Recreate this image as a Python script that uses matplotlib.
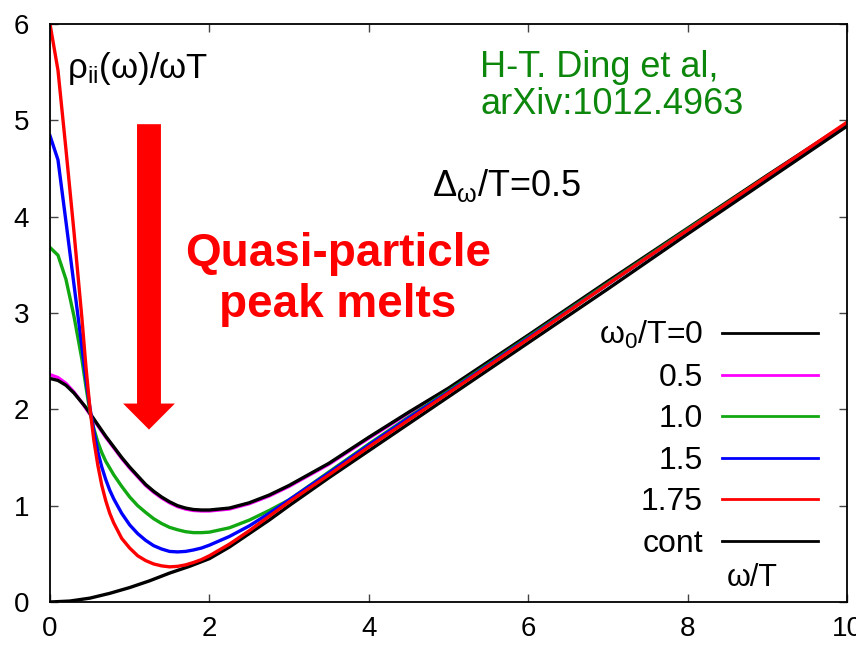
import matplotlib
matplotlib.use("Agg")
import matplotlib.pyplot as plt
from matplotlib.lines import Line2D
from matplotlib.patches import FancyArrow

plt.rcParams['font.family'] = ['Liberation Sans', 'DejaVu Sans']
plt.rcParams['mathtext.fontset'] = 'custom'
plt.rcParams['mathtext.rm'] = 'Liberation Sans'
plt.rcParams['mathtext.default'] = 'regular'

# omega/T grid shared by the omega_0 curves
omega = [0, 0.1, 0.2, 0.3, 0.4, 0.45, 0.5, 0.55, 0.6, 0.65, 0.7, 0.75, 0.8, 0.9, 1.0,
         1.1, 1.2, 1.3, 1.4, 1.5, 1.6, 1.7, 1.8, 1.9, 2.0, 2.25, 2.5, 2.75, 3.0, 3.5,
         4.0, 4.5, 5.0, 6.0, 7.0, 8.0, 9.0, 10.0]

rho_w0_00 = [2.32, 2.30, 2.25, 2.17, 2.07, 2.02, 1.96, 1.90, 1.84, 1.78, 1.72, 1.665, 1.61, 1.50, 1.40,
             1.31, 1.22, 1.15, 1.09, 1.04, 1.00, 0.975, 0.96, 0.955, 0.955, 0.975, 1.03, 1.11, 1.21, 1.44,
             1.71, 1.97, 2.22, 2.77, 3.33, 3.88, 4.43, 4.97]
rho_w0_05 = [2.36, 2.33, 2.27, 2.18, 2.07, 2.01, 1.95, 1.89, 1.83, 1.77, 1.71, 1.655, 1.60, 1.49, 1.39,
             1.30, 1.21, 1.14, 1.08, 1.03, 0.99, 0.965, 0.95, 0.945, 0.945, 0.965, 1.02, 1.10, 1.20, 1.43,
             1.70, 1.96, 2.21, 2.76, 3.32, 3.87, 4.42, 4.96]
rho_w0_10 = [3.68, 3.60, 3.35, 2.97, 2.52, 2.24, 1.98, 1.80, 1.66, 1.55, 1.46, 1.39, 1.32, 1.20, 1.09,
             1.00, 0.93, 0.865, 0.815, 0.775, 0.75, 0.73, 0.72, 0.72, 0.725, 0.77, 0.85, 0.95, 1.06, 1.35,
             1.64, 1.92, 2.19, 2.75, 3.31, 3.87, 4.42, 4.96]
rho_w0_15 = [4.84, 4.59, 3.95, 3.30, 2.65, 2.32, 2.02, 1.77, 1.56, 1.40, 1.27, 1.16, 1.07, 0.92, 0.80,
             0.71, 0.64, 0.585, 0.55, 0.525, 0.52, 0.525, 0.54, 0.56, 0.59, 0.68, 0.79, 0.92, 1.06, 1.34,
             1.63, 1.91, 2.18, 2.74, 3.30, 3.86, 4.41, 4.96]
rho_w0_175 = [6.00, 5.52, 4.70, 3.85, 2.95, 2.45, 2.02, 1.68, 1.42, 1.21, 1.05, 0.92, 0.82, 0.66, 0.56,
              0.48, 0.43, 0.395, 0.375, 0.365, 0.37, 0.385, 0.41, 0.44, 0.48, 0.60, 0.74, 0.89, 1.04, 1.32,
              1.61, 1.89, 2.17, 2.73, 3.30, 3.86, 4.42, 4.98]

# free continuum
omega_cont = [0, 0.25, 0.5, 0.75, 1.0, 1.25, 1.5, 1.75, 2.0, 2.25, 2.5, 2.75, 3.0, 3.5, 4.0,
              4.5, 5.0, 6.0, 7.0, 8.0, 9.0, 10.0]
rho_cont = [0, 0.01, 0.04, 0.09, 0.15, 0.22, 0.30, 0.37, 0.45, 0.57, 0.71, 0.85, 1.00, 1.29, 1.57,
            1.85, 2.13, 2.69, 3.25, 3.82, 4.38, 4.94]

labels = ['ω$_0$/T=0', '0.5', '1.0', '1.5', '1.75', 'cont']
colors = ['black', '#ff00ff', '#12a812', '#0000ff', '#ff0000', 'black']

fig = plt.figure(figsize=(8.56, 6.47), dpi=100)
ax = fig.add_axes([50 / 856, 45 / 647, 797 / 856, 578 / 647])

lw = 2.4
ax.plot(omega, rho_w0_05, color=colors[1], lw=lw)
ax.plot(omega, rho_w0_00, color=colors[0], lw=lw)
ax.plot(omega, rho_w0_10, color=colors[2], lw=lw)
ax.plot(omega, rho_w0_15, color=colors[3], lw=lw)
ax.plot(omega_cont, rho_cont, color=colors[5], lw=lw)
ax.plot(omega, rho_w0_175, color=colors[4], lw=lw)

ax.set_xlim(0, 10)
ax.set_ylim(0, 6)
ax.set_xticks([0, 2, 4, 6, 8, 10])
ax.set_yticks([0, 1, 2, 3, 4, 5, 6])
ax.tick_params(direction='in', length=6, width=1, color='#444444', labelsize=20,
               top=True, right=True)
ax.tick_params(axis='x', pad=10)
ax.tick_params(axis='y', pad=15)
for s in ax.spines.values():
    s.set_linewidth(1.3)

ax.set_xlabel('ω/T', fontsize=22)
ax.xaxis.set_label_coords(0.881, 0.068)

# legend, text to the left of the line sample
handles = [Line2D([], [], color=c, lw=2.0) for c in colors]
ax.legend(handles, labels, loc='upper right', bbox_to_anchor=(0.9636, 0.489),
          frameon=False, markerfirst=False, fontsize=23, handlelength=3.0,
          handletextpad=0.6, labelspacing=0.36, borderpad=0, borderaxespad=0)

ax.text(0.21, 5.54, 'ρ$_{ii}$(ω)/ωT', fontsize=25, ha='left', va='center')
ax.text(4.79, 4.21, 'Δ$_ω$/T=0.5', fontsize=26, ha='left', va='baseline')
ax.text(5.40, 5.36, 'H-T. Ding et al,\narXiv:1012.4963', color='#0c870c', fontsize=26,
        ha='left', va='center', linespacing=1.08)
ax.text(3.61, 3.35, 'Quasi-particle\npeak melts', color='#ff0000', fontsize=33,
        fontweight='bold', ha='center', va='center')

ax.add_patch(FancyArrow(1.242, 4.96, 0, -3.17, width=0.30, head_width=0.65,
                        head_length=0.27, length_includes_head=True,
                        color='#ff0000', lw=0))

fig.savefig('out.png', dpi=100)
